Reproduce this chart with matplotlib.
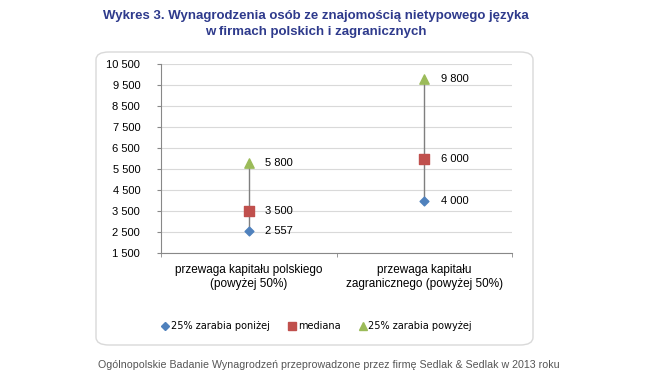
import matplotlib.pyplot as plt
from matplotlib.patches import FancyBboxPatch
from matplotlib.lines import Line2D

plt.rcParams['font.family'] = ['Liberation Sans', 'DejaVu Sans']

categories = ['przewaga kapitału polskiego\n(powyżej 50%)',
              'przewaga kapitału\nzagranicznego (powyżej 50%)']
low = [2557, 4000]
median = [3500, 6000]
high = [5800, 9800]
series_names = ['25% zarabia poniżej', 'mediana', '25% zarabia powyżej']
yticks = list(range(1500, 10501, 1000))

def fmt(v):
    return f'{v:,}'.replace(',', ' ')

fig = plt.figure(figsize=(6.5, 3.84), dpi=100)

# rounded chart frame, behind the axes
box = FancyBboxPatch((96 / 650, 1 - 345 / 384), (533 - 96) / 650, (345 - 52) / 384,
                     boxstyle='round,pad=0,rounding_size=0.02', transform=fig.transFigure,
                     facecolor='white', edgecolor='#d9d9d9', linewidth=1.0, zorder=-1)
fig.patches.append(box)

ax = fig.add_axes([161 / 650, 1 - 253 / 384, (512 - 161) / 650, (253 - 64) / 384])
ax.patch.set_alpha(0)
ax.set_xlim(-0.5, 1.5)
ax.set_ylim(1500, 10500)
ax.set_yticks(yticks)
ax.set_yticklabels([fmt(v) for v in yticks], fontsize=8)
ax.grid(axis='y', color='#d9d9d9', linewidth=0.8)
ax.set_axisbelow(True)
for s in ['top', 'right']:
    ax.spines[s].set_visible(False)
ax.spines['left'].set_color('#888888')
ax.spines['bottom'].set_color('#888888')
ax.tick_params(axis='y', length=3, color='#888888', pad=12)
ax.set_xticks([0, 1])
ax.set_xticks([-0.5, 0.5, 1.5], minor=True)
ax.tick_params(axis='x', which='major', length=0, pad=8)
ax.tick_params(axis='x', which='minor', length=3, color='#888888')
ax.set_xticklabels(categories, fontsize=8.5)

x = list(range(len(categories)))
for i in x:
    ax.plot([i, i], [low[i], high[i]], color='#7f7f7f', linewidth=1.0, zorder=2)
ax.scatter(x, low, marker='D', s=20, color='#4F81BD', zorder=3)
ax.scatter(x, median, marker='s', s=45, color='#C0504D', zorder=3)
ax.scatter(x, high, marker='^', s=45, color='#9BBB59', zorder=3)
for vals in (low, median, high):
    for i, v in zip(x, vals):
        ax.annotate(fmt(v), (i, v), xytext=(12, 0), textcoords='offset points',
                    va='center', ha='left', fontsize=8)

handles = [Line2D([], [], marker='D', color='#4F81BD', linestyle='', markersize=4),
           Line2D([], [], marker='s', color='#C0504D', linestyle='', markersize=6),
           Line2D([], [], marker='^', color='#9BBB59', linestyle='', markersize=6)]
fig.legend(handles, series_names, loc='center', bbox_to_anchor=(316 / 650, 1 - 326 / 384),
           ncol=3, frameon=False, handletextpad=0.1, columnspacing=1.8,
           handlelength=1.0, prop={'family': 'DejaVu Sans', 'size': 7})

fig.text(316 / 650, 1 - 16 / 384, 'Wykres 3. Wynagrodzenia osób ze znajomością nietypowego języka',
         ha='center', va='center', fontsize=9.5, fontweight='bold', color='#2E3A8C')
fig.text(316 / 650, 1 - 32 / 384, 'w firmach polskich i zagranicznych',
         ha='center', va='center', fontsize=9.5, fontweight='bold', color='#2E3A8C')
fig.text(329 / 650, 1 - 365 / 384,
         'Ogólnopolskie Badanie Wynagrodzeń przeprowadzone przez firmę Sedlak & Sedlak w 2013 roku',
         ha='center', va='center', fontsize=7.7, color='#555555')

fig.savefig('out.png', dpi=100)
